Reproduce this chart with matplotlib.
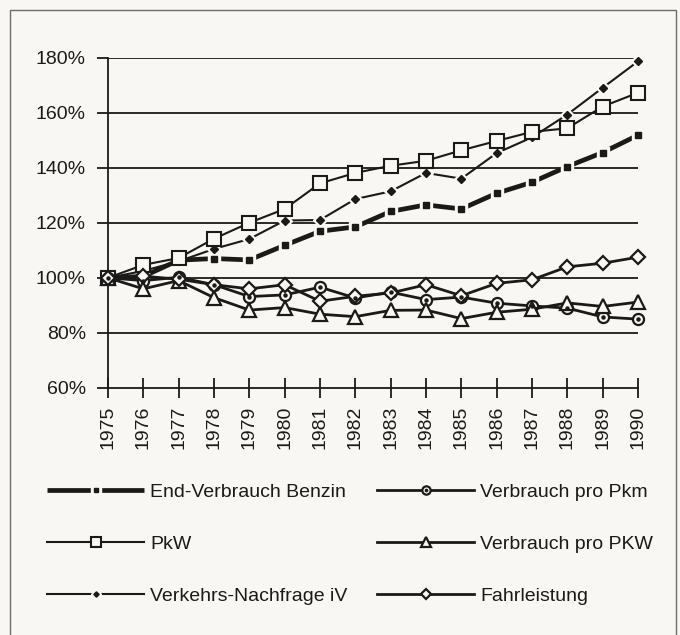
import matplotlib
matplotlib.use("Agg")
import matplotlib.pyplot as plt
from matplotlib.patches import Rectangle
from matplotlib.legend_handler import HandlerTuple

plt.rcParams['font.family'] = ['Liberation Sans', 'DejaVu Sans']

years = list(range(1975, 1991))
benzin = [100, 100.5, 106.4, 107.0, 106.5, 111.8, 116.9, 118.5, 124.1, 126.5, 125.0, 130.7, 134.7, 140.4, 145.5, 151.8]
pkw = [100, 104.7, 107.2, 114.2, 120.0, 125.0, 134.3, 138.1, 140.7, 142.5, 146.3, 149.7, 153.0, 154.3, 162.2, 167.2]
nachfrage = [100, 102.5, 106.0, 110.5, 114.1, 120.8, 121.0, 128.6, 131.4, 138.1, 136.0, 145.3, 151.0, 159.3, 169.0, 178.6]
pro_pkm = [100, 99.0, 100.2, 97.5, 93.2, 93.8, 96.6, 92.7, 94.8, 92.1, 93.0, 90.8, 89.8, 89.0, 85.8, 85.0]
pro_pkw = [100, 96.0, 99.0, 92.8, 88.3, 89.2, 86.8, 85.9, 88.2, 88.3, 85.2, 87.5, 88.6, 90.9, 89.6, 91.2]
fahrleistung = [100, 100.6, 99.5, 97.5, 96.0, 97.5, 91.5, 93.3, 94.5, 97.5, 93.5, 98.0, 99.3, 104.0, 105.3, 107.5]

labels = ["End-Verbrauch Benzin", "PkW", "Verkehrs-Nachfrage iV",
          "Verbrauch pro Pkm", "Verbrauch pro PKW", "Fahrleistung"]
yticks = [60, 80, 100, 120, 140, 160, 180]
ytick_labels = ["60%", "80%", "100%", "120%", "140%", "160%", "180%"]

BG = '#f8f7f3'
INK = '#1c1a18'
FS = 14

fig = plt.figure(figsize=(6.8, 6.35), dpi=100, facecolor=BG)
fig.add_artist(Rectangle((10 / 680, -0.1), 666 / 680, 1.1 - 10 / 635,
                         transform=fig.transFigure, fill=False,
                         edgecolor='#6f6d6a', lw=1.0))

ax = fig.add_axes([108 / 680, 1 - 388 / 635, 530 / 680, 330.5 / 635])
ax.set_facecolor(BG)
ax.set_xlim(1975, 1990)
ax.set_ylim(60, 180)

for v in yticks[1:]:
    ax.axhline(v, color=INK, lw=1.3, zorder=1)

# Benzin: thick line with small filled squares surrounded by gaps
h_b1, = ax.plot(years, benzin, color=INK, lw=3.4, zorder=3, clip_on=False, solid_capstyle='butt')
h_b2, = ax.plot(years, benzin, ls='none', marker='s', ms=9, mfc=BG, mec=BG, zorder=4, clip_on=False)
h_b3, = ax.plot(years, benzin, ls='none', marker='s', ms=4.4, mfc=INK, mec=INK, zorder=5, clip_on=False)

# PkW: open squares
h_p, = ax.plot(years, pkw, color=INK, lw=1.5, marker='s', ms=9.5, mfc=BG, mec=INK, mew=1.5,
               zorder=6, clip_on=False)

# Verkehrs-Nachfrage: thin line with small filled diamonds and gaps
h_n1, = ax.plot(years, nachfrage, color=INK, lw=1.5, zorder=3, clip_on=False)
h_n2, = ax.plot(years, nachfrage, ls='none', marker='D', ms=7, mfc=BG, mec=BG, zorder=4, clip_on=False)
h_n3, = ax.plot(years, nachfrage, ls='none', marker='D', ms=3.6, mfc=INK, mec=INK, zorder=5, clip_on=False)

# Verbrauch pro Pkm: open circles with centre dot
h_c1, = ax.plot(years, pro_pkm, color=INK, lw=2.0, marker='o', ms=8, mfc=BG, mec=INK, mew=1.6,
                zorder=6, clip_on=False)
h_c2, = ax.plot(years, pro_pkm, ls='none', marker='o', ms=2.2, mfc=INK, mec=INK, zorder=7, clip_on=False)

# Verbrauch pro PKW: open triangles
h_t, = ax.plot(years, pro_pkw, color=INK, lw=2.0, marker='^', ms=9.5, mfc=BG, mec=INK, mew=1.6,
               zorder=6, clip_on=False)

# Fahrleistung: open diamonds
h_d, = ax.plot(years, fahrleistung, color=INK, lw=2.0, marker='D', ms=7, mfc=BG, mec=INK, mew=1.6,
               zorder=6, clip_on=False)

for s in ['top', 'right']:
    ax.spines[s].set_visible(False)
for s in ['left', 'bottom']:
    ax.spines[s].set_color(INK)
    ax.spines[s].set_linewidth(1.3)

ax.set_yticks(yticks)
ax.set_yticklabels(ytick_labels, fontsize=FS, color=INK)
ax.set_xticks(years)
ax.set_xticklabels([str(y) for y in years], rotation=90, fontsize=FS, color=INK)
ax.tick_params(axis='y', direction='out', length=8, width=1.3, color=INK, pad=8)
ax.tick_params(axis='x', direction='inout', length=15, width=1.3, color=INK, pad=5)

leg_kw = dict(frameon=False, fontsize=FS, handlelength=5.0, handletextpad=0.3,
              labelspacing=1.78, borderpad=0, borderaxespad=0, loc='upper left',
              markerscale=0.75, bbox_transform=fig.transFigure,
              handler_map={tuple: HandlerTuple(ndivide=1, pad=0)})
leg1 = ax.legend([(h_b1, h_b2, h_b3), h_p, (h_n1, h_n2, h_n3)], labels[:3],
                 bbox_to_anchor=(47 / 680, 1 - 483 / 635), **leg_kw)
for t in leg1.get_texts():
    t.set_color(INK)
ax.add_artist(leg1)
leg2 = ax.legend([(h_c1, h_c2), h_t, h_d], labels[3:],
                 bbox_to_anchor=(377 / 680, 1 - 483 / 635), **leg_kw)
for t in leg2.get_texts():
    t.set_color(INK)

fig.savefig("out.png", dpi=100, facecolor=BG)
